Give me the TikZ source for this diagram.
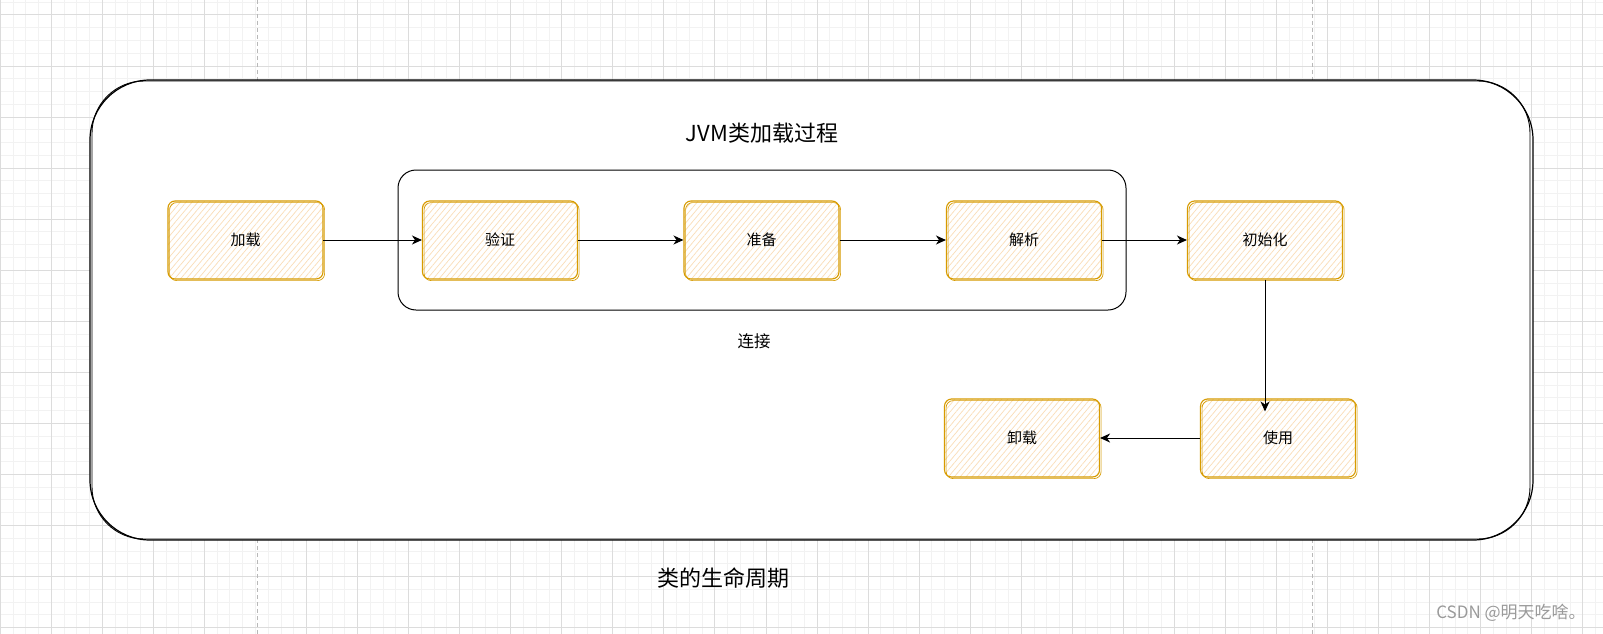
\documentclass[tikz,border=0pt]{standalone}
\usepackage{fontspec}
\setmainfont{Noto Sans CJK SC}
\usetikzlibrary{arrows.meta,patterns.meta,positioning}
\definecolor{stageline}{HTML}{D79B00}
\definecolor{stagefill}{HTML}{FADDB8}
\definecolor{majorgray}{HTML}{DCDCDC}
\definecolor{minorgray}{HTML}{F2F2F2}
\definecolor{pagegray}{HTML}{B8B8B8}
\definecolor{markgray}{HTML}{9A9A9A}
\tikzset{
  stagebox/.style={draw=stageline, line width=1.1pt, rounded corners=7pt,
    minimum width=155pt, minimum height=78pt, inner sep=0pt,
    pattern={Lines[angle=50,distance=4.5pt,line width=0.7pt]}, pattern color=stagefill,
    font=\fontsize{15}{18}\selectfont,
    postaction={draw=stageline, line width=0.7pt,
      transform canvas={shift={(1.6pt,-1.6pt)}}}},
  flow/.style={-{Stealth[length=10pt,width=9pt,inset=3pt]}, line width=1pt},
  minorline/.style={draw=minorgray, line width=1pt},
  majorline/.style={draw=majorgray, line width=1pt},
  pageline/.style={draw=pagegray, line width=1pt, dash pattern=on 4pt off 3pt},
}
\begin{document}
\begin{tikzpicture}[x=1pt, y=-1pt]
  \useasboundingbox (0,0) rectangle (1603,634);
  \fill[white] (0,0) rectangle (1603,634);
  % background grid
  \foreach \i in {0,...,125}
    \draw[minorline] ({0.25+12.7625*\i},0) -- ++(0,634);
  \foreach \i in {-1,...,48}
    \draw[minorline] (0,{15+12.7625*\i}) -- ++(1603,0);
  \foreach \i in {0,...,4,6,7,...,31}
    \draw[majorline] ({0.25+51.05*\i},0) -- ++(0,634);
  \foreach \i in {0,...,12}
    \draw[majorline] (0,{15+51.05*\i}) -- ++(1603,0);
  \draw[pageline] (257.7,0) -- ++(0,634);
  \draw[pageline] (1312.7,0) -- ++(0,634);

  % outer frame
  \draw[line width=1.2pt, fill=white, rounded corners=60pt] (90,80) rectangle (1533,540);
  \draw[line width=0.9pt, rounded corners=52pt] (92,81) rectangle (1530,539);
  \node[font=\fontsize{22}{26}\selectfont] (title) at (762,133) {JVM类加载过程};

  % linking phase
  \draw[line width=1pt, rounded corners=18pt] (398,170) rectangle (1126,310);
  \node[font=\fontsize{16.5}{20}\selectfont] (linklabel) at (754,341) {连接};

  \node[stagebox] (load) at (245.5,240) {加载};
  \node[stagebox] (verify) at (500,240) {验证};
  \node[stagebox] (prepare) at (761.5,240) {准备};
  \node[stagebox] (resolve) at (1024,240) {解析};
  \node[stagebox] (init) at (1265,240) {初始化};
  \node[stagebox] (use) at (1278,438) {使用};
  \node[stagebox] (unload) at (1022,438) {卸载};

  \draw[flow] (load) -- (verify);
  \draw[flow] (verify) -- (prepare);
  \draw[flow] (prepare) -- (resolve);
  \draw[flow] (resolve) -- (init);
  \coordinate (usetop) at ([yshift=-13pt]init.south |- use.north);
  \draw[flow] (init) -- (usetop);
  \draw[flow] (use) -- (unload);

  \node[font=\fontsize{22}{26}\selectfont] (lifelabel) at (723,578) {类的生命周期};
  \node[font=\fontsize{17}{20}\selectfont, text=markgray] (mark) at (1511,613) {CSDN @明天吃啥。};
\end{tikzpicture}
\end{document}
